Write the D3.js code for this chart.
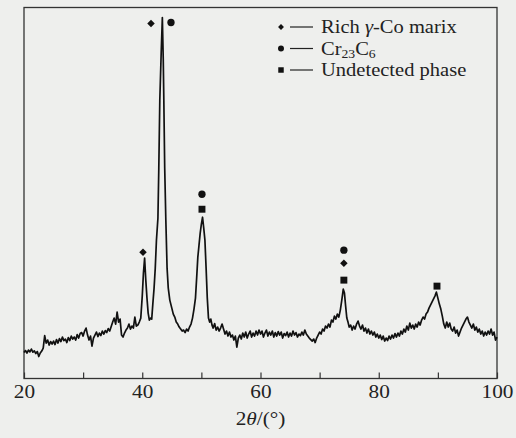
<!DOCTYPE html>
<html><head><meta charset="utf-8">
<script src="https://cdn.jsdelivr.net/npm/d3@7"></script>
<style>
html,body{margin:0;padding:0;background:#eeefed;}
svg{display:block;}
text{font-family:"Liberation Serif","Times New Roman",serif;fill:#222;}
</style></head>
<body>
<svg id="c" width="516" height="438"></svg>
<script>
// ---- data ----
const twoTheta = [
20.0,20.25,20.5,20.75,21.0,21.25,21.5,21.75,22.0,22.25,22.5,22.75,23.0,23.25,23.5,23.75,24.0,24.25,24.5,24.75,
25.0,25.25,25.5,25.75,26.0,26.25,26.5,26.75,27.0,27.25,27.5,27.75,28.0,28.25,28.5,28.75,29.0,29.25,29.5,29.75,
30.0,30.25,30.5,30.75,31.0,31.25,31.5,31.75,32.0,32.25,32.5,32.75,33.0,33.25,33.5,33.75,34.0,34.25,34.5,34.75,
35.0,35.25,35.5,35.75,36.0,36.25,36.5,36.75,37.0,37.25,37.5,37.75,38.0,38.25,38.5,38.75,39.0,39.25,39.5,39.75,
40.0,40.2,40.4,40.6,40.8,41.0,41.2,41.4,41.6,41.8,42.0,42.2,42.4,42.65,42.8,42.97,43.2,43.4,43.55,43.65,
43.8,43.99,44.2,44.4,44.66,45.0,45.25,45.5,45.75,46.0,46.25,46.5,46.75,47.0,47.25,47.5,47.75,48.0,48.25,48.5,
48.75,49.0,49.2,49.4,49.6,49.8,50.0,50.2,50.4,50.6,50.8,51.0,51.2,51.4,51.6,51.8,52.0,52.25,52.5,52.75,
53.0,53.25,53.5,53.75,54.0,54.25,54.5,54.75,55.0,55.25,55.5,55.75,56.0,56.25,56.5,56.75,57.0,57.25,57.5,57.75,
58.0,58.25,58.5,58.75,59.0,59.25,59.5,59.75,60.0,60.25,60.5,60.75,61.0,61.25,61.5,61.75,62.0,62.25,62.5,62.75,
63.0,63.25,63.5,63.75,64.0,64.25,64.5,64.75,65.0,65.25,65.5,65.75,66.0,66.25,66.5,66.75,67.0,67.25,67.5,67.75,
68.0,68.25,68.5,68.75,69.0,69.25,69.5,69.75,70.0,70.25,70.5,70.75,71.0,71.25,71.5,71.75,72.0,72.25,72.5,72.75,
73.0,73.25,73.5,73.75,74.0,74.2,74.4,74.6,74.8,75.0,75.25,75.5,75.75,76.0,76.25,76.5,76.75,77.0,77.25,77.5,
77.75,78.0,78.25,78.5,78.75,79.0,79.25,79.5,79.75,80.0,80.25,80.5,80.75,81.0,81.25,81.5,81.75,82.0,82.25,82.5,
82.75,83.0,83.25,83.5,83.75,84.0,84.25,84.5,84.75,85.0,85.25,85.5,85.75,86.0,86.25,86.5,86.75,87.0,87.25,87.5,
87.75,88.0,88.25,88.5,88.75,89.0,89.25,89.5,89.75,90.0,90.25,90.5,90.75,91.0,91.25,91.5,91.75,92.0,92.25,92.5,
92.75,93.0,93.25,93.5,93.75,94.0,94.25,94.5,94.75,95.0,95.25,95.5,95.75,96.0,96.25,96.5,96.75,97.0,97.25,97.5,
97.75,98.0,98.25,98.5,98.75,99.0,99.25,99.5,99.75,100.0
];
const intensity = [
255,275,250,280,262,290,258,272,245,265,215,250,270,300,425,350,380,330,365,340,
370,335,385,350,395,365,410,375,390,355,405,375,420,390,410,380,435,400,445,455,
420,470,500,430,380,420,320,400,430,460,415,450,425,470,440,475,455,495,470,515,
560,600,540,660,560,590,430,410,450,480,500,540,490,520,500,610,520,530,560,600,
820,1050,1200,980,800,650,580,600,590,750,900,1100,1380,1600,2100,2780,3250,3610,3200,2780,
2100,1580,1100,900,780,700,640,610,560,540,510,490,470,480,455,490,470,510,540,600,
690,800,1000,1210,1330,1450,1540,1610,1500,1380,1100,800,600,560,590,530,500,545,480,510,
470,500,540,490,440,470,420,460,410,430,380,420,310,400,430,390,450,410,460,400,
440,470,410,450,420,470,430,480,440,470,410,450,480,420,460,430,470,410,455,420,
465,430,460,400,445,425,460,410,450,420,470,430,455,410,440,425,460,430,480,440,
420,400,385,370,390,355,400,430,460,440,490,470,520,500,540,510,580,560,620,590,
640,610,680,780,890,850,720,600,560,510,530,480,520,490,540,570,520,490,530,470,
500,450,490,440,470,430,460,410,440,400,430,385,420,370,400,375,420,390,430,400,
445,410,450,420,470,440,490,460,520,480,550,500,530,490,540,510,560,530,580,610,
590,640,660,700,730,760,790,820,860,800,740,690,620,540,500,560,510,550,490,470,
510,450,480,420,460,500,530,560,590,610,560,530,500,540,480,510,460,490,440,470,
420,460,430,470,440,490,430,460,380,410
];
const xTicks = [20,30,40,50,60,70,80,90,100];
const xTickLabels = {20:"20",40:"40",60:"60",80:"80",100:"100"};
// phase markers: position (2θ, intensity) and phase index
const markerTheta = [41.48,44.86,40.13,50.1,50.1,74.1,74.1,74.1,89.85];
const markerInt   = [3550,3560,1260,1840,1690,1280,1150,980,920];
const markerPhase = [0,1,0,1,2,1,0,2,2];
const phaseShapes = ["diamond","circle","square"];

// ---- chart ----
const svg = d3.select("#c");
const W=516,H=438;
const L=24,R=497,T=7.5,B=378.5;
const x = d3.scaleLinear().domain([20,100]).range([L,R]);
const y = d3.scaleLinear().domain([0,3710]).range([B-0.5,T]);

svg.append("rect").attr("width",W).attr("height",H).attr("fill","#eeefed");

// axis ticks (inside) and labels
const ax = svg.append("g").attr("transform",`translate(0,${B})`)
  .call(d3.axisBottom(x).tickValues(xTicks).tickSizeInner(-6).tickSizeOuter(0).tickPadding(6)
    .tickFormat(d=>xTickLabels[d]||""));
ax.select(".domain").remove();
ax.selectAll(".tick line").attr("stroke","#333").attr("stroke-width",1.2);
ax.selectAll(".tick text").attr("font-size",19).attr("fill","#222")
  .attr("font-family",'"Liberation Serif","Times New Roman",serif')
  .attr("transform","scale(1.12,1)");

// frame
svg.append("rect").attr("x",L).attr("y",T).attr("width",R-L).attr("height",B-T)
  .attr("fill","none").attr("stroke","#333").attr("stroke-width",1.3);

// curve
const pts = twoTheta.map((t,i)=>[t,intensity[i]]);
svg.append("path").datum(pts)
  .attr("d", d3.line().x(d=>x(d[0])).y(d=>y(d[1])))
  .attr("fill","none").attr("stroke","#111").attr("stroke-width",1.7).attr("stroke-linejoin","round");

// marker shapes
const sym = {
  diamond: d3.symbol().type(d3.symbolDiamond2).size(36),
  circle: d3.symbol().type(d3.symbolCircle).size(42),
  square: d3.symbol().type(d3.symbolSquare).size(48)
};
svg.append("g").selectAll("path").data(markerTheta.map((t,i)=>({t,v:markerInt[i],p:markerPhase[i]})))
  .join("path")
  .attr("transform",d=>`translate(${x(d.t)},${y(d.v)})`)
  .attr("d",d=>sym[phaseShapes[d.p]]())
  .attr("fill","#111");

// legend
const leg = svg.append("g").attr("transform","translate(281,27)");
const legRows = [0,1,2];
legRows.forEach((p,i)=>{
  const g = leg.append("g").attr("transform",`translate(0,${i*21.5})`);
  g.append("path").attr("d",sym[phaseShapes[p]].size(p===0?22:p===1?28:30)()).attr("fill","#111");
  g.append("line").attr("x1",9).attr("x2",32).attr("y1",0).attr("y2",0).attr("stroke","#222").attr("stroke-width",1.2);
  const t = g.append("text").attr("transform","translate(40,6) scale(1.14,1)").attr("font-size",18);
  if(p===0){
    t.append("tspan").text("Rich ");
    t.append("tspan").attr("font-style","italic").text("γ");
    t.append("tspan").text("-Co marix");
  } else if(p===1){
    t.append("tspan").text("Cr");
    t.append("tspan").attr("font-size",12).attr("dy",3).text("23");
    t.append("tspan").attr("dy",-3).text("C");
    t.append("tspan").attr("font-size",12).attr("dy",3).text("6");
  } else {
    t.append("tspan").text("Undetected phase");
  }
});

// axis title
const at = svg.append("text").attr("transform",`translate(${(L+R)/2},425) scale(1.12,1)`)
  .attr("text-anchor","middle").attr("font-size",19);
at.append("tspan").text("2");
at.append("tspan").attr("font-style","italic").text("θ");
at.append("tspan").text("/(°)");
</script>
</body></html>
